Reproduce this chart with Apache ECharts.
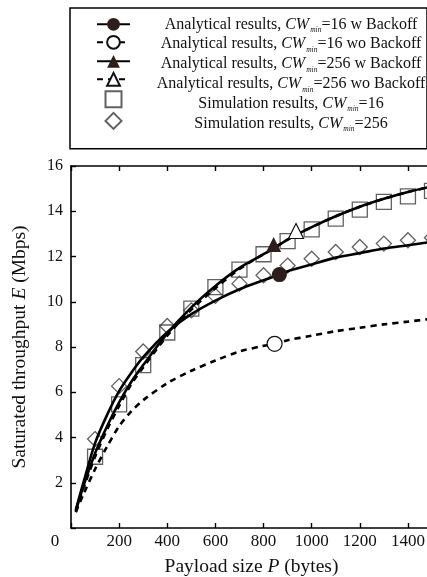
<!DOCTYPE html>
<html><head><meta charset="utf-8">
<script src="https://cdn.jsdelivr.net/npm/echarts@6/dist/echarts.min.js"></script>
<style>html,body{margin:0;padding:0;background:#fff}#c{width:427px;height:577px}</style>
</head><body><div id="c"></div>
<script>
// ---- data ----
const seriesNames = [
  'Analytical results, CWmin=16 w Backoff',
  'Analytical results, CWmin=16 wo Backoff',
  'Analytical results, CWmin=256 w Backoff',
  'Analytical results, CWmin=256 wo Backoff',
  'Simulation results, CWmin=16',
  'Simulation results, CWmin=256'
];
const payloadGrid = [20, 50, 100, 150, 200, 250, 300, 400, 500, 600, 700, 800, 900, 1000, 1100, 1200, 1300, 1400, 1500];
const cw16WithBackoff     = [0.8, 1.95, 3.75, 5.0, 6.05, 6.85, 7.55, 8.65, 9.45, 10.05, 10.55, 10.95, 11.35, 11.65, 11.95, 12.15, 12.35, 12.5, 12.65];
const cw16WithoutBackoff  = [0.7, 1.45, 2.6, 3.6, 4.5, 5.15, 5.65, 6.4, 6.95, 7.4, 7.8, 8.05, 8.3, 8.5, 8.7, 8.85, 9.0, 9.12, 9.25];
const cw256WithBackoff    = [0.75, 1.8, 3.3, 4.5, 5.55, 6.45, 7.2, 8.6, 9.75, 10.7, 11.5, 12.1, 12.75, 13.3, 13.78, 14.2, 14.55, 14.85, 15.1];
const cw256WithoutBackoff = [0.75, 1.7, 3.15, 4.35, 5.4, 6.35, 7.1, 8.5, 9.65, 10.6, 11.45, 12.1, 12.75, 13.3, 13.78, 14.2, 14.55, 14.85, 15.1];
// one marker on each analytical curve: [payload, throughput]
const markerCw16With     = [866, 11.2];
const markerCw16Without  = [846, 8.14];
const markerCw256With    = [842, 12.35];
const markerCw256Without = [935, 12.95];
const simPayload = [100, 200, 300, 400, 500, 600, 700, 800, 900, 1000, 1100, 1200, 1300, 1400, 1500];
const simCw16  = [3.15, 5.46, 7.2, 8.64, 9.7, 10.65, 11.42, 12.1, 12.68, 13.2, 13.67, 14.07, 14.41, 14.66, 14.9];
const simCw256 = [3.93, 6.27, 7.8, 8.93, 9.62, 10.26, 10.8, 11.17, 11.6, 11.9, 12.2, 12.42, 12.57, 12.72, 12.83];
const yTicks = [2, 4, 6, 8, 10, 12, 14, 16];
const xTicks = [200, 400, 600, 800, 1000, 1200, 1400];

// ---- build ----
const FONT = '"Liberation Serif", "DejaVu Serif", serif';
function curve(xs, ys, marker) {
  const pts = xs.map((x, i) => ({ value: [x, ys[i]], symbol: 'none' }));
  const k = pts.findIndex(p => p.value[0] > marker[0]);
  pts.splice(k, 0, { value: marker.slice() });
  return pts;
}
function richName(name) {
  const parts = name.split('CWmin');
  return '{n|' + parts[0] + '}{i|CW}{s|min}{n|' + parts[1] + '}';
}
const legendRich = {
  n: { fontFamily: FONT, fontSize: 16, color: '#111', align: 'center' },
  i: { fontFamily: FONT, fontSize: 16, fontStyle: 'italic', color: '#111', align: 'center' },
  s: { fontFamily: FONT, fontSize: 7.5, fontStyle: 'italic', color: '#111', align: 'center', padding: [12, 0, 0, 1] }
};
const solid = { color: '#000', width: 2.6 };
const dashed = { color: '#000', width: 2.6, type: [6, 5] };
const filled = { color: '#2b1e1b' };
const hollow = { color: '#fff', borderColor: '#111', borderWidth: 1.2 };
const simStyle = { color: 'rgba(0,0,0,0)', borderColor: '#3a3a3a', borderWidth: 1.3 };

const chart = echarts.init(document.getElementById('c'), null, { renderer: 'canvas' });
chart.setOption({
  animation: false,
  backgroundColor: '#fff',
  textStyle: { fontFamily: FONT },
  legend: [
    {
      data: seriesNames,
      orient: 'vertical', left: 70, top: 8,
      padding: [6.5, 1, 15.5, 80],
      itemWidth: 0, itemHeight: 0, itemGap: 0,
      borderColor: '#000', borderWidth: 1.5,
      selectedMode: false,
      formatter: richName,
      textStyle: { width: 270, lineHeight: 19.6, fontFamily: FONT, fontSize: 16, rich: legendRich }
    },
    {
      data: seriesNames.map((n, i) => i === 4 ? { name: n, icon: 'path://M0,0H10V10H0Z' } : i === 5 ? { name: n, icon: 'path://M5,0L10,5L5,10L0,5Z' } : { name: n }),
      orient: 'vertical', left: 96, top: 16.3,
      padding: 0,
      itemWidth: 33, itemHeight: 16, itemGap: 3.6,
      selectedMode: false,
      formatter: () => '',
      textStyle: { fontSize: 1 }
    }
  ],
  grid: { left: 71, right: -5, top: 166, bottom: 49, containLabel: false, outerBoundsMode: 'none' },
  xAxis: [
    {
      type: 'value', min: 0, max: 1500, interval: 200, position: 'bottom',
      axisLine: { lineStyle: { color: '#000', width: 1.6 } },
      axisTick: { inside: true, length: 5, lineStyle: { color: '#000', width: 1.4 } },
      splitLine: { show: false },
      axisLabel: {
        margin: 5, fontSize: 17, color: '#111', fontFamily: FONT,
        formatter: v => v === 0 ? '{o|0}' : (xTicks.indexOf(v) >= 0 ? String(v) : ''),
        rich: { o: { fontSize: 17, fontFamily: FONT, color: '#111', padding: [0, 32, 0, 0] } }
      },
      name: '{n|Payload size }{i|P}{n| (bytes)}',
      nameLocation: 'middle', nameGap: 29,
      nameTextStyle: { rich: {
        n: { fontFamily: FONT, fontSize: 19.5, color: '#111' },
        i: { fontFamily: FONT, fontSize: 19.5, fontStyle: 'italic', color: '#111' } } }
    },
    {
      type: 'value', min: 0, max: 1500, interval: 200, position: 'top',
      axisLine: { lineStyle: { color: '#000', width: 1.6 } },
      axisTick: { inside: true, length: 5, lineStyle: { color: '#000', width: 1.4 } },
      axisLabel: { show: false }, splitLine: { show: false }
    }
  ],
  yAxis: {
    type: 'value', min: 0, max: 16, interval: 2,
    axisLine: { show: true, lineStyle: { color: '#000', width: 1.6 } },
    axisTick: { show: true, inside: true, length: 5, lineStyle: { color: '#000', width: 1.4 } },
    splitLine: { show: false },
    axisLabel: { margin: 8, fontSize: 16, color: '#111', fontFamily: FONT,
      formatter: v => yTicks.indexOf(v) >= 0 ? String(v) : '' },
    name: '{n|Saturated throughput }{i|E}{n| (Mbps)}',
    nameLocation: 'middle', nameGap: 41, nameRotate: 90,
    nameTextStyle: { rich: {
      n: { fontFamily: FONT, fontSize: 19.5, color: '#111' },
      i: { fontFamily: FONT, fontSize: 19.5, fontStyle: 'italic', color: '#111' } } }
  },
  series: [
    { name: seriesNames[4], type: 'scatter', symbol: 'rect', symbolSize: 15, itemStyle: simStyle, z: 2,
      data: simPayload.map((x, i) => [x, simCw16[i]]) },
    { name: seriesNames[5], type: 'scatter', symbol: 'diamond', symbolSize: 15, itemStyle: simStyle, z: 2,
      data: simPayload.map((x, i) => [x, simCw256[i]]) },
    { name: seriesNames[0], type: 'line', smooth: 0.3, showSymbol: true,
      symbol: 'circle', symbolSize: 15, itemStyle: filled, lineStyle: solid, z: 3,
      data: curve(payloadGrid, cw16WithBackoff, markerCw16With) },
    { name: seriesNames[1], type: 'line', smooth: 0.3, showSymbol: true,
      symbol: 'circle', symbolSize: 15, itemStyle: hollow, lineStyle: dashed, z: 3,
      data: curve(payloadGrid, cw16WithoutBackoff, markerCw16Without) },
    { name: seriesNames[2], type: 'line', smooth: 0.3, showSymbol: true,
      symbol: 'triangle', symbolSize: 15, symbolOffset: [0, -4], itemStyle: filled, lineStyle: solid, z: 3,
      data: curve(payloadGrid, cw256WithBackoff, markerCw256With) },
    { name: seriesNames[3], type: 'line', smooth: 0.3, showSymbol: true,
      symbol: 'triangle', symbolSize: 15, symbolOffset: [0, -4], itemStyle: hollow, lineStyle: dashed, z: 3,
      data: curve(payloadGrid, cw256WithoutBackoff, markerCw256Without) }
  ]
});
</script></body></html>
